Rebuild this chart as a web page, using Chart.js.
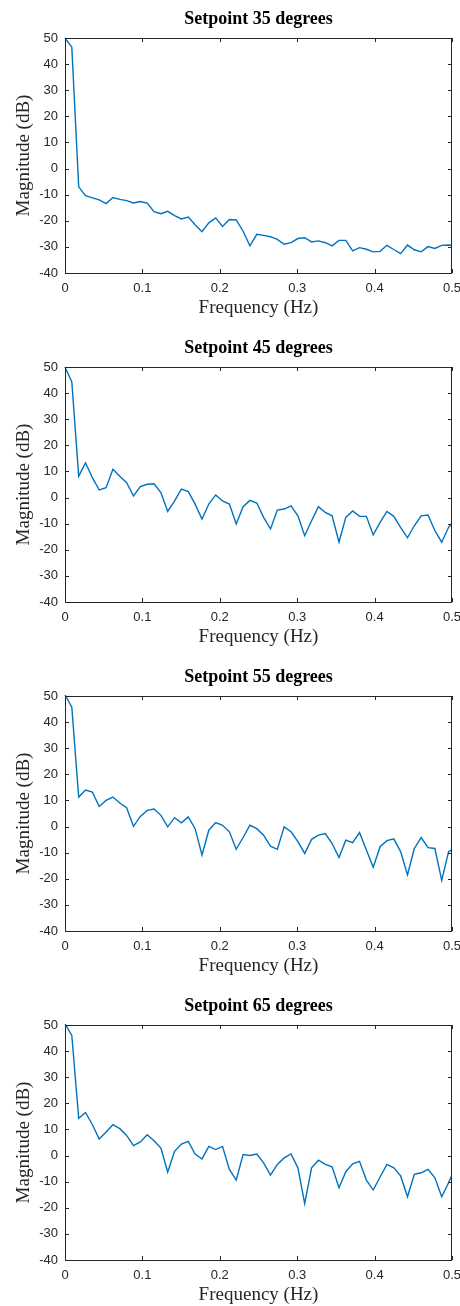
<!DOCTYPE html>
<html>
<head>
<meta charset="utf-8">
<script src="https://cdn.jsdelivr.net/npm/chart.js@4.4.0/dist/chart.umd.min.js"></script>
<style>
  html, body { margin: 0; padding: 0; background: #fff; }
  #page { position: relative; width: 460px; height: 1306px; overflow: hidden; }
  .plot { position: absolute; left: 0; width: 460px; height: 329px; }
</style>
</head>
<body>
<div id="page">
  <div class="plot" style="top:0px"><canvas id="c35" width="460" height="329"></canvas></div>
  <div class="plot" style="top:329px"><canvas id="c45" width="460" height="329"></canvas></div>
  <div class="plot" style="top:658px"><canvas id="c55" width="460" height="329"></canvas></div>
  <div class="plot" style="top:987px"><canvas id="c65" width="460" height="329"></canvas></div>
</div>
<script>
// frequency bins (Hz)
const freqHz = [0, 0.0088, 0.0177, 0.0265, 0.0354, 0.0442, 0.0531, 0.0619, 0.0708, 0.0796,
  0.0885, 0.0973, 0.1062, 0.1150, 0.1239, 0.1327, 0.1416, 0.1504, 0.1593, 0.1681,
  0.1770, 0.1858, 0.1947, 0.2035, 0.2124, 0.2212, 0.2301, 0.2389, 0.2478, 0.2566,
  0.2655, 0.2743, 0.2832, 0.2920, 0.3009, 0.3097, 0.3186, 0.3274, 0.3363, 0.3451,
  0.3540, 0.3628, 0.3717, 0.3805, 0.3894, 0.3982, 0.4071, 0.4159, 0.4248, 0.4336,
  0.4425, 0.4513, 0.4602, 0.4690, 0.4779, 0.4867, 0.4956, 0.5044]

// magnitude (dB) per setpoint
const mag35 = [50, 46.5, -7, -10.4, -11.2, -12, -13.4, -11.1, -11.8, -12.3,
  -13.2, -12.6, -13.2, -16.5, -17.3, -16.4, -18, -19.3, -18.6, -21.5,
  -24.2, -20.8, -18.9, -22.2, -19.5, -19.7, -24, -29.6, -25.2, -25.6,
  -26.1, -27.1, -29, -28.4, -26.8, -26.5, -28.1, -27.7, -28.4, -29.6,
  -27.5, -27.5, -31.5, -30.3, -30.9, -31.9, -31.7, -29.4, -31, -32.6,
  -29.3, -31.1, -31.9, -29.9, -30.6, -29.4, -29.3, -29.5]

const mag45 = [50, 44.3, 8.2, 13.3, 7.6, 2.9, 3.8, 10.8, 8.2, 5.7,
  0.6, 4.2, 5.1, 5.3, 1.9, -5.3, -1.3, 3.2, 2.3, -2.5,
  -8.2, -2.5, 1, -1.3, -2.5, -10.1, -3.5, -1.1, -2.1, -7.6,
  -12, -4.8, -4.4, -3.2, -7, -14.6, -8.9, -3.5, -5.7, -7,
  -17.1, -7.6, -5.1, -7.2, -7.2, -14.3, -9.5, -5.3, -7.2, -11.4,
  -15.4, -10.8, -7, -6.7, -12.7, -17.1, -11.4, -8.1]

const mag55 = [50.5, 45.7, 11.3, 14, 13.2, 7.7, 10, 11.3, 9, 7.2,
  0.1, 3.9, 6.2, 6.7, 4.3, -0.1, 3.4, 1.4, 3.7, -0.8,
  -10.9, -1.4, 1.5, 0.5, -2, -8.7, -4.2, 0.5, -0.8, -3.3,
  -7.5, -8.7, -0.1, -2, -5.8, -10.3, -4.9, -3.3, -2.7, -6.5,
  -11.9, -5.2, -6.2, -2.3, -9, -15.6, -7.7, -5.4, -4.7, -9.6,
  -18.5, -8.4, -4.2, -8.1, -8.4, -20.6, -9.6, -8.1]

const mag65 = [50.5, 46, 14.3, 16.5, 11.8, 6.3, 9, 11.8, 10.3, 7.7,
  3.8, 5.2, 8, 5.7, 2.9, -6.3, 1.6, 4.4, 5.4, 0.6,
  -1.3, 3.5, 2.3, 3.5, -5.3, -9.4, 0.4, 0, 0.6, -2.8,
  -7.5, -3.4, -0.9, 0.6, -4.7, -18.4, -4.7, -1.8, -3.4, -4.3,
  -12.3, -6.2, -3.2, -2.2, -9.4, -13.2, -8.2, -3.4, -4.7, -7.8,
  -15.8, -7.2, -6.6, -5.3, -8.5, -15.8, -10.4, -4.5]

const titles = ['Setpoint 35 degrees', 'Setpoint 45 degrees', 'Setpoint 55 degrees', 'Setpoint 65 degrees']
const canvasIds = ['c35', 'c45', 'c55', 'c65']
const series = [mag35, mag45, mag55, mag65]

const xTicks = [0, 0.1, 0.2, 0.3, 0.4, 0.5]
const yMin = -40, yMax = 50, yStep = 10

const axisColor = '#262626'

// matlab style box, inward ticks and title centered on the axes
const matlabBox = {
  id: 'matlabBox',
  afterDraw(chart, args, opts) {
    const ctx = chart.ctx
    const a = chart.chartArea
    const xs = chart.scales.x, ys = chart.scales.y
    const tl = 4
    ctx.save()
    ctx.strokeStyle = axisColor
    ctx.lineWidth = 1
    ctx.beginPath()
    xs.ticks.forEach(t => {
      const p = Math.round(xs.getPixelForValue(t.value)) + 0.5
      ctx.moveTo(p, a.top); ctx.lineTo(p, a.top + tl)
      ctx.moveTo(p, a.bottom); ctx.lineTo(p, a.bottom - tl)
    })
    ys.ticks.forEach(t => {
      const p = Math.round(ys.getPixelForValue(t.value)) + 0.5
      ctx.moveTo(a.left, p); ctx.lineTo(a.left + tl, p)
      ctx.moveTo(a.right, p); ctx.lineTo(a.right - tl, p)
    })
    ctx.stroke()
    ctx.strokeRect(Math.round(a.left) + 0.5, Math.round(a.top) + 0.5,
      Math.round(a.right - a.left) - 1, Math.round(a.bottom - a.top))
    ctx.fillStyle = '#000'
    ctx.font = 'bold 18px "Liberation Serif", "Times New Roman", serif'
    ctx.textAlign = 'center'
    ctx.textBaseline = 'alphabetic'
    ctx.fillText(opts.text, (a.left + a.right) / 2, 24)
    ctx.restore()
  }
}

function drawPlot(id, values, title) {
  const pts = freqHz.map((f, i) => ({ x: f, y: values[i] }))
  new Chart(document.getElementById(id), {
    type: 'line',
    data: {
      datasets: [{
        data: pts,
        borderColor: '#0072BD',
        borderWidth: 1.4,
        pointRadius: 0,
        tension: 0,
        fill: false,
        clip: { left: 1, top: 1, right: 0, bottom: 1 }
      }]
    },
    options: {
      responsive: false,
      animation: false,
      layout: { padding: { top: 38, right: 8, left: 0, bottom: 0 } },
      plugins: {
        legend: { display: false },
        tooltip: { enabled: false },
        matlabBox: { text: title }
      },
      scales: {
        x: {
          type: 'linear',
          min: 0,
          max: 0.5,
          afterBuildTicks(s) { s.ticks = xTicks.map(v => ({ value: v })) },
          afterFit(s) { s.height = 56; s.paddingLeft = 0; s.paddingRight = 0 },
          grid: { display: false, drawTicks: false },
          border: { display: false },
          ticks: {
            padding: 8,
            maxRotation: 0,
            autoSkip: false,
            color: axisColor,
            font: { family: '"Liberation Sans", Arial, sans-serif', size: 13 }
          },
          title: {
            display: true,
            text: 'Frequency (Hz)',
            color: axisColor,
            padding: { top: 0, bottom: 10 },
            font: { family: '"Liberation Serif", "Times New Roman", serif', size: 19 }
          }
        },
        y: {
          min: yMin,
          max: yMax,
          ticks: {
            stepSize: yStep,
            padding: 7,
            autoSkip: false,
            color: axisColor,
            font: { family: '"Liberation Sans", Arial, sans-serif', size: 13 }
          },
          afterFit(s) { s.width = 65; s.paddingTop = 0; s.paddingBottom = 0 },
          grid: { display: false, drawTicks: false },
          border: { display: false },
          title: {
            display: true,
            text: 'Magnitude (dB)',
            color: axisColor,
            padding: { top: 13, bottom: 0 },
            font: { family: '"Liberation Serif", "Times New Roman", serif', size: 19 }
          }
        }
      }
    },
    plugins: [matlabBox]
  })
}

for (let k = 0; k < series.length; k++) {
  drawPlot(canvasIds[k], series[k], titles[k])
}
</script>
</body>
</html>
